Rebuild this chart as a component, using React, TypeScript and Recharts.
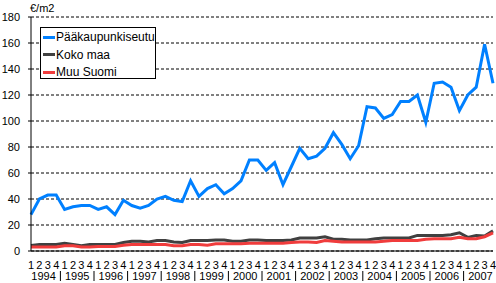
import { LineChart, Line, XAxis, YAxis, CartesianGrid } from 'recharts';

// Vuodet ja neljännekset
const YEARS = ['1994', '1995', '1996', '1997', '1998', '1999', '2000', '2001', '2002', '2003', '2004', '2005', '2006', '2007'];
const QUARTERS = ['1', '2', '3', '4'];

const PAAKAUPUNKISEUTU = [
  28, 40, 43, 43, 32, 34, 35, 35, 32, 34, 28, 39, 35, 33, 35, 40,
  42, 39, 38, 54, 42, 48, 51, 44, 48, 54, 70, 70, 62, 68, 51, 65,
  79, 71, 73, 79, 91, 82, 71, 81, 111, 110, 102, 105, 115, 115, 120, 99,
  129, 130, 126, 108, 120, 126, 159, 129,
];
const KOKO_MAA = [
  4.3, 5, 5, 5, 6, 5, 4, 5, 5, 5, 5, 6.5, 7.5, 7.5, 7, 8,
  8, 7, 6.5, 8, 8, 8, 8.5, 8.5, 7.5, 7.5, 8.5, 8.5, 8, 8, 8, 8.5,
  10, 10, 10, 11, 9, 9, 8.5, 8.5, 8.5, 9.5, 10, 10, 10, 10, 12, 12,
  12, 12, 12.5, 14, 10.5, 12, 11.5, 15.5,
];
const MUU_SUOMI = [
  3, 3, 3, 3, 4, 4, 3, 3, 3.5, 3.5, 3.5, 4.5, 5, 5, 5, 5,
  5, 4, 4, 5, 5, 4.5, 5.5, 5.5, 5.5, 5.5, 6, 6, 6, 6, 6, 6.5,
  7, 7, 6.5, 8, 7.5, 7, 7, 7, 7, 7, 7.5, 8, 8, 8, 8, 9,
  9.5, 9.5, 9.5, 10.5, 9.5, 9.5, 11, 14,
];

const SERIES = [
  { key: 'paa', name: 'Pääkaupunkiseutu', color: '#0080FF', values: PAAKAUPUNKISEUTU },
  { key: 'koko', name: 'Koko maa', color: '#404040', values: KOKO_MAA },
  { key: 'muu', name: 'Muu Suomi', color: '#F03C3C', values: MUU_SUOMI },
];

const Y_TICKS = [0, 20, 40, 60, 80, 100, 120, 140, 160, 180];

const categories = YEARS.flatMap(y => QUARTERS.map(q => ({ year: y, q })));

const data = categories.map((c, i) => {
  const row: Record<string, any> = { label: `${c.year}/${c.q}`, year: c.year, q: c.q };
  SERIES.forEach(s => { row[s.key] = s.values[i]; });
  return row;
});

const FONT = '"Liberation Sans", Arial, sans-serif';
const STEP = 8.4;

function QuarterTick(props: any) {
  const { x, y, payload } = props;
  const c = categories[payload.index];
  if (!c) return null;
  return (
    <g>
      <text x={x} y={y + 18} textAnchor="middle" fontSize={11} fontFamily={FONT} fill="#000">
        {c.q}
      </text>
      {c.q === '2' && (
        <text x={x + STEP / 2} y={y + 29} textAnchor="middle" fontSize={11} fontFamily={FONT} fill="#000">
          {c.year}
        </text>
      )}
      {c.q === '1' && payload.index > 0 && (
        <line x1={x - STEP / 2} x2={x - STEP / 2} y1={y + 20} y2={y + 30} stroke="#000" strokeWidth={1} />
      )}
    </g>
  );
}

export default function App() {
  return (
    <div style={{ position: 'absolute', left: 0, top: 0, width: 496, height: 283, background: '#fff', fontFamily: FONT }}>
      <LineChart width={496} height={283} data={data} margin={{ top: 17, right: 3, left: 0, bottom: 0 }}>
        <CartesianGrid vertical={false} stroke="#000" strokeDasharray="3 2" />
        <XAxis
          dataKey="label"
          scale="point"
          padding={{ left: 0, right: 0 }}
          interval={0}
          height={32}
          tickLine={false}
          tickSize={0}
          tickMargin={0}
          axisLine={{ stroke: '#000', strokeWidth: 1 }}
          tick={<QuarterTick />}
        />
        <YAxis
          domain={[0, 180]}
          ticks={Y_TICKS}
          width={31}
          tickSize={3}
          tickMargin={8}
          axisLine={{ stroke: '#000' }}
          tickLine={{ stroke: '#000' }}
          tick={{ fontSize: 11, fill: '#000', fontFamily: FONT }}
        />
        {SERIES.map(s => (
          <Line
            key={s.key}
            dataKey={s.key}
            name={s.name}
            type="linear"
            stroke={s.color}
            strokeWidth={3}
            dot={false}
            isAnimationActive={false}
          />
        ))}
      </LineChart>

      <div style={{ position: 'absolute', left: 30, top: 2, fontSize: 11, color: '#000' }}>€/m2</div>

      {/* Selite */}
      <div
        style={{
          position: 'absolute', left: 40, top: 27, width: 114, height: 50,
          border: '1px solid #000', background: '#fff', boxSizing: 'content-box',
        }}
      >
        {SERIES.map((s, i) => (
          <div key={s.key} style={{ position: 'absolute', left: 2, top: 1 + i * 17.5, height: 16, display: 'flex', alignItems: 'center' }}>
            <span style={{ display: 'inline-block', width: 12, height: 3, background: s.color, marginRight: 1 }} />
            <span style={{ fontSize: 12, color: '#000', whiteSpace: 'nowrap' }}>{s.name}</span>
          </div>
        ))}
      </div>
    </div>
  );
}
